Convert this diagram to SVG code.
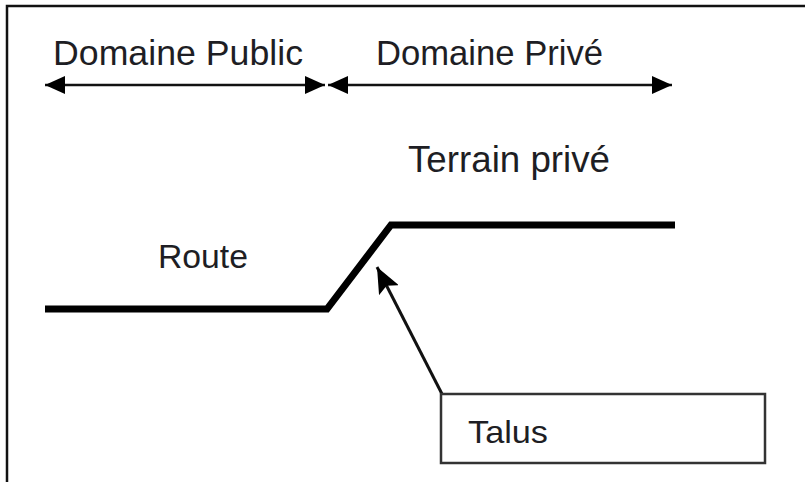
<svg xmlns="http://www.w3.org/2000/svg" width="805" height="482" viewBox="0 0 805 482">
<style>
text{font-family:"Liberation Sans",Arial,sans-serif;fill:#1e1e24}
.dim{stroke:#111;stroke-width:2.5;fill:none}
.ground{stroke:#000;stroke-width:7;fill:none;stroke-linejoin:miter}
</style>
<defs>
<marker id="ah" viewBox="0 0 20 18" refX="20" refY="9" markerWidth="20" markerHeight="18" markerUnits="userSpaceOnUse" orient="auto-start-reverse">
<path d="M0,0 L20,9 L0,18 Z" fill="#000"/>
</marker>
<marker id="ah2" viewBox="0 0 26 22" refX="26" refY="11" markerWidth="26" markerHeight="22" markerUnits="userSpaceOnUse" orient="auto">
<path d="M0,0 L26,11 L0,22 L5,11 Z" fill="#000"/>
</marker>
</defs>
<rect width="805" height="482" fill="#fff"/>
<path d="M7,482 V6 H805" stroke="#111" stroke-width="2.5" fill="none"/>
<g id="labels">
<text x="53" y="65" font-size="35" textLength="250" lengthAdjust="spacingAndGlyphs">Domaine Public</text>
<text x="376" y="65" font-size="35" textLength="227" lengthAdjust="spacingAndGlyphs">Domaine Privé</text>
<text x="408" y="172" font-size="36" textLength="202" lengthAdjust="spacingAndGlyphs">Terrain privé</text>
<text x="158" y="268" font-size="33" textLength="90" lengthAdjust="spacingAndGlyphs">Route</text>
</g>
<g id="connectors">
<line class="dim" x1="45" y1="85" x2="325" y2="85" marker-start="url(#ah)" marker-end="url(#ah)"/>
<line class="dim" x1="328" y1="85" x2="672" y2="85" marker-start="url(#ah)" marker-end="url(#ah)"/>
<line x1="442" y1="394" x2="377" y2="267" stroke="#111" stroke-width="3" marker-end="url(#ah2)"/>
</g>
<g id="ground">
<path class="ground" d="M45,309 H327 L391,225 H675"/>
</g>
<g id="talus">
<rect x="441" y="394" width="324" height="69" fill="#fff" stroke="#333" stroke-width="2.5"/>
<text x="468" y="443" font-size="32" textLength="80" lengthAdjust="spacingAndGlyphs">Talus</text>
</g>
</svg>
